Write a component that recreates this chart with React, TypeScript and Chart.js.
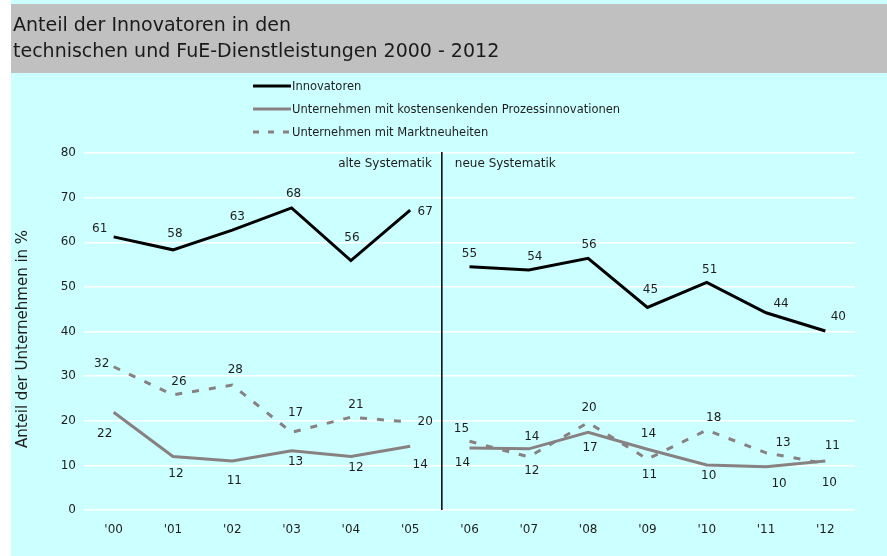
import React, { useEffect, useRef } from "react";
import { Chart, registerables } from "chart.js";

Chart.register(...registerables);

const categories = ["'00", "'01", "'02", "'03", "'04", "'05", "'06", "'07", "'08", "'09", "'10", "'11", "'12"];
const innovatoren = [61.2, 58.3, 62.7, 67.7, 55.9, 67.2, 54.5, 53.8, 56.4, 45.4, 51.0, 44.2, 40.1];
const prozessinnovationen = [21.9, 12.0, 11.0, 13.3, 12.0, 14.3, 13.9, 13.7, 17.4, 13.6, 10.1, 9.7, 11.0];
const marktneuheiten = [32.1, 25.8, 28.0, 17.4, 20.8, 19.7, 15.4, 11.9, 19.6, 11.4, 17.9, 12.8, 10.4];

const seriesNames = [
  "Innovatoren",
  "Unternehmen mit kostensenkenden Prozessinnovationen",
  "Unternehmen mit Marktneuheiten",
];
const titleLines = ["Anteil der Innovatoren in den", "technischen und FuE-Dienstleistungen 2000 - 2012"];
const yTitle = "Anteil der Unternehmen in %";
const periodLabels = ["alte Systematik", "neue Systematik"];
const breakAfterIndex = 5;

// label placement offsets relative to each point (dx, dy)
const innovOffsets = [[-14, -8], [2, -16], [5, -13], [2, -14], [1, -23], [15, 2], [0, -13], [6, -13], [1, -13], [3, -18], [3, -13], [15, -9], [13, -14]];
const prozOffsets = [[-9, 22], [3, 17], [2, 20], [4, 11], [5, 11], [10, 19], [-7, 15], [3, -12], [2, 16], [1, -15], [2, 11], [13, 17], [7, -15]];
const marktOffsets = [[-12, -3], [6, -13], [3, -15], [4, -19], [5, -12], [15, 0], [-8, -12], [3, 14], [1, -15], [2, 16], [7, -12], [17, -10], [4, 19]];

const FONT = "'DejaVu Sans', Verdana, sans-serif";
const BLACK = "#000000";
const GRAY = "#878181";
const TEXT = "#1e1e1e";
const DASH = [7, 10];

export default function App() {
  const ref = useRef<HTMLCanvasElement | null>(null);

  useEffect(() => {
    const canvas = ref.current;
    if (!canvas) return;
    const offsets = [innovOffsets, prozOffsets, marktOffsets];

    const decor = {
      id: "decor",
      beforeDraw(chart: any) {
        const ctx = chart.ctx;
        ctx.save();
        ctx.fillStyle = "#ffffff";
        ctx.fillRect(0, 0, 887, 556);
        ctx.fillStyle = "#ccffff";
        ctx.fillRect(11, 0, 876, 556);
        ctx.fillStyle = "#c0c0c0";
        ctx.fillRect(11, 4, 876, 69);
        ctx.restore();
      },
      afterDraw(chart: any) {
        const ctx = chart.ctx;
        const area = chart.chartArea;
        const xs = chart.scales.x;
        ctx.save();
        // title
        ctx.fillStyle = "#1a1a1a";
        ctx.font = `19px ${FONT}`;
        ctx.textAlign = "left";
        ctx.textBaseline = "alphabetic";
        ctx.fillText(titleLines[0], 13, 31);
        ctx.fillText(titleLines[1], 13, 57);

        // legend
        const rows = [86, 109, 132];
        const colors = [BLACK, GRAY, GRAY];
        rows.forEach((y, i) => {
          ctx.beginPath();
          ctx.strokeStyle = colors[i];
          ctx.lineWidth = 3;
          ctx.setLineDash(i === 2 ? [6, 9] : []);
          ctx.moveTo(253, y);
          ctx.lineTo(291, y);
          ctx.stroke();
          ctx.setLineDash([]);
          ctx.fillStyle = TEXT;
          ctx.font = `11.5px ${FONT}`;
          ctx.textBaseline = "middle";
          ctx.fillText(seriesNames[i], 292, y + 1);
        });

        // y axis title
        ctx.save();
        ctx.translate(23, 339);
        ctx.rotate(-Math.PI / 2);
        ctx.font = `15px ${FONT}`;
        ctx.fillStyle = TEXT;
        ctx.textAlign = "center";
        ctx.textBaseline = "middle";
        ctx.fillText(yTitle, 0, 0);
        ctx.restore();

        // divider
        const xd = (xs.getPixelForValue(breakAfterIndex) + xs.getPixelForValue(breakAfterIndex + 1)) / 2 + 2;
        ctx.beginPath();
        ctx.strokeStyle = "#000";
        ctx.lineWidth = 1.5;
        ctx.moveTo(xd, area.top - 1);
        ctx.lineTo(xd, area.bottom);
        ctx.stroke();

        ctx.font = `12px ${FONT}`;
        ctx.fillStyle = TEXT;
        ctx.textBaseline = "middle";
        ctx.textAlign = "right";
        ctx.fillText(periodLabels[0], xd - 10, area.top + 11);
        ctx.textAlign = "left";
        ctx.fillText(periodLabels[1], xd + 13, area.top + 11);

        // data labels
        ctx.textAlign = "center";
        chart.data.datasets.forEach((ds: any, di: number) => {
          const meta = chart.getDatasetMeta(di);
          meta.data.forEach((pt: any, i: number) => {
            const [dx, dy] = offsets[di][i];
            ctx.fillText(String(Math.round(ds.data[i])), pt.x + dx, pt.y + dy);
          });
        });
        ctx.restore();
      },
    };

    const seg = {
      borderColor: (c: any) => (c.p0DataIndex === breakAfterIndex ? "rgba(0,0,0,0)" : undefined),
    };

    const chart = new Chart(canvas, {
      type: "line",
      data: {
        labels: categories,
        datasets: [
          { label: seriesNames[0], data: innovatoren, borderColor: BLACK, borderWidth: 3, pointRadius: 0, tension: 0, segment: seg },
          { label: seriesNames[1], data: prozessinnovationen, borderColor: GRAY, borderWidth: 3, pointRadius: 0, tension: 0, segment: seg },
          { label: seriesNames[2], data: marktneuheiten, borderColor: GRAY, borderWidth: 3, borderDash: DASH, pointRadius: 0, tension: 0, segment: seg },
        ],
      },
      options: {
        responsive: false,
        animation: false,
        devicePixelRatio: 1,
        layout: { padding: { top: 153, right: 32, bottom: 0, left: 0 } },
        plugins: { legend: { display: false }, tooltip: { enabled: false }, title: { display: false } },
        scales: {
          x: {
            offset: true,
            grid: { display: false, drawTicks: false },
            border: { display: false },
            ticks: { color: TEXT, font: { family: FONT, size: 12 }, padding: 13, maxRotation: 0, autoSkip: false },
            afterFit: (s: any) => { s.height = 46; },
          },
          y: {
            min: 0,
            max: 80,
            grid: { color: "#ffffff", lineWidth: 1.5, drawTicks: false },
            border: { display: false },
            ticks: { stepSize: 10, color: TEXT, font: { family: FONT, size: 12 }, padding: 8 },
            afterFit: (s: any) => { s.width = 84; },
          },
        },
      },
      plugins: [decor],
    } as any);

    return () => chart.destroy();
  }, []);

  return (
    <div style={{ position: "absolute", left: 0, top: 0, width: 887, height: 556 }}>
      <canvas ref={ref} width={887} height={556} style={{ display: "block", width: 887, height: 556 }} />
    </div>
  );
}
